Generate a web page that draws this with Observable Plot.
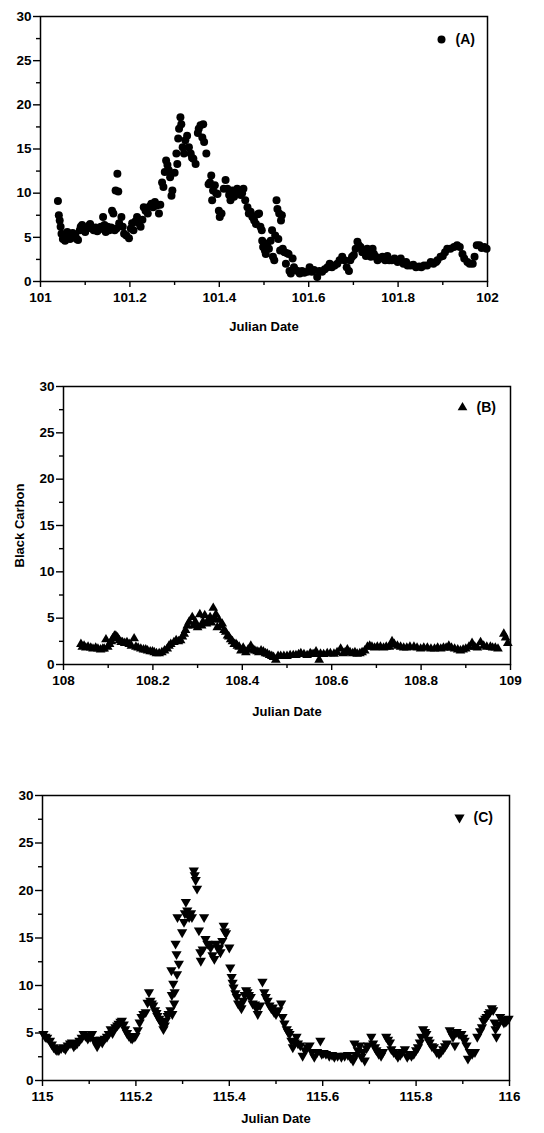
<!DOCTYPE html>
<html>
<head>
<meta charset="utf-8">
<script src="https://cdn.jsdelivr.net/npm/d3@7"></script>
<script src="https://cdn.jsdelivr.net/npm/@observablehq/plot@0.6"></script>
<style>
  html, body { margin: 0; padding: 0; background: #fff; }
  #page { position: relative; width: 544px; height: 1133px; overflow: hidden; }
  .panel { position: absolute; left: 0; }
  #page svg text { font-weight: 700 !important; font-family: 'Liberation Sans', Arial, sans-serif !important; }
</style>
</head>
<body>
<div id="page">
  <div class="panel" id="pA" style="top:0px"></div>
  <div class="panel" id="pB" style="top:345px"></div>
  <div class="panel" id="pC" style="top:735px"></div>
</div>
<script>
// ---------- Data ----------
const julianA = [101.039,101.041,101.043,101.045,101.047,101.050,101.052,101.055,101.058,101.060,101.063,101.066,101.069,101.072,101.075,101.078,101.081,101.084,101.088,101.090,101.093,101.097,101.100,101.104,101.108,101.111,101.115,101.119,101.123,101.127,101.131,101.135,101.140,101.143,101.146,101.150,101.154,101.158,101.160,101.163,101.166,101.168,101.172,101.174,101.170,101.176,101.181,101.184,101.187,101.192,101.198,101.202,101.205,101.208,101.212,101.216,101.220,101.224,101.228,101.231,101.235,101.240,101.244,101.248,101.252,101.256,101.260,101.265,101.268,101.272,101.275,101.278,101.281,101.284,101.287,101.290,101.293,101.295,101.300,101.304,101.306,101.308,101.310,101.313,101.315,101.318,101.321,101.324,101.328,101.332,101.336,101.339,101.342,101.347,101.352,101.354,101.358,101.364,101.362,101.366,101.371,101.376,101.379,101.382,101.384,101.386,101.390,101.393,101.396,101.399,101.401,101.405,101.410,101.414,101.418,101.422,101.425,101.429,101.433,101.437,101.440,101.444,101.448,101.451,101.454,101.458,101.463,101.466,101.470,101.474,101.478,101.482,101.486,101.489,101.492,101.495,101.496,101.498,101.502,101.504,101.507,101.511,101.515,101.518,101.520,101.523,101.525,101.528,101.530,101.532,101.534,101.536,101.538,101.540,101.542,101.546,101.549,101.552,101.555,101.557,101.560,101.564,101.567,101.570,101.575,101.580,101.585,101.590,101.597,101.602,101.607,101.612,101.619,101.624,101.630,101.636,101.642,101.647,101.652,101.658,101.664,101.669,101.675,101.680,101.685,101.690,101.693,101.697,101.701,101.705,101.709,101.712,101.716,101.720,101.724,101.728,101.731,101.735,101.739,101.743,101.746,101.750,101.754,101.759,101.765,101.771,101.776,101.780,101.786,101.792,101.799,101.806,101.812,101.818,101.821,101.828,101.834,101.840,101.847,101.852,101.858,101.865,101.873,101.879,101.885,101.888,101.895,101.900,101.905,101.910,101.917,101.925,101.932,101.938,101.944,101.948,101.955,101.960,101.967,101.971,101.976,101.982,101.987,101.993,101.998];
const bcA = [9.1,7.5,6.9,6.2,5.4,4.8,5.2,4.6,5.0,5.6,5.1,4.8,5.3,5.5,5.0,5.2,4.8,4.7,5.8,6.2,6.4,5.9,5.6,6.0,6.3,6.5,6.0,5.8,6.1,5.7,5.9,6.2,7.3,6.4,5.6,6.2,5.8,6.1,8.0,7.7,5.8,10.3,12.2,10.2,6.0,6.6,7.3,6.2,5.4,5.2,4.9,6.0,6.6,5.8,6.8,7.3,6.6,6.2,7.0,8.4,8.0,7.7,8.5,8.8,8.4,9.0,8.6,7.7,8.7,11.2,10.7,12.4,13.7,13.2,12.6,11.8,9.7,10.3,12.3,14.5,13.3,16.2,17.3,18.6,17.8,15.2,14.5,16.0,16.5,15.2,14.5,14.0,13.9,13.3,16.8,17.3,17.7,17.8,16.3,15.8,14.5,11.0,11.2,12.0,9.2,10.3,10.9,10.0,9.9,8.0,7.3,7.7,10.5,11.5,10.5,9.8,9.2,10.3,9.6,10.2,10.5,10.3,9.8,10.0,10.5,9.2,8.4,7.7,7.9,7.3,6.9,6.5,7.6,7.7,6.2,5.8,4.6,3.9,3.5,3.1,4.3,3.7,4.6,5.8,2.8,2.4,5.2,9.2,8.2,4.8,7.7,3.5,6.9,7.5,3.7,3.3,2.0,3.2,3.1,1.2,0.9,2.6,1.6,1.3,1.2,0.9,1.2,1.0,1.1,1.6,1.1,1.3,0.5,1.2,1.1,1.4,1.6,2.0,1.6,1.8,2.0,2.4,2.8,2.4,1.6,1.2,2.4,2.8,3.0,3.7,4.5,4.1,3.9,3.3,3.5,2.9,3.7,3.2,2.8,3.7,3.1,2.8,2.4,2.6,2.8,2.4,2.9,2.4,2.4,2.6,2.2,2.6,2.0,2.2,1.8,1.8,1.9,1.6,1.7,1.6,1.8,1.8,2.2,2.0,2.2,2.4,2.8,2.9,3.3,3.7,3.7,3.9,4.1,3.9,3.1,2.6,2.2,2.0,2.0,2.8,4.1,4.1,3.8,3.9,3.7];

const julianB = [108.039,108.042,108.046,108.050,108.055,108.061,108.066,108.072,108.077,108.083,108.088,108.091,108.095,108.099,108.103,108.107,108.110,108.114,108.117,108.121,108.125,108.129,108.132,108.137,108.142,108.147,108.152,108.158,108.162,108.167,108.173,108.179,108.184,108.188,108.194,108.199,108.203,108.208,108.214,108.220,108.226,108.232,108.236,108.240,108.247,108.252,108.257,108.262,108.266,108.270,108.273,108.277,108.281,108.288,108.291,108.295,108.300,108.305,108.309,108.312,108.316,108.320,108.324,108.328,108.331,108.335,108.339,108.341,108.344,108.348,108.352,108.355,108.359,108.363,108.367,108.370,108.374,108.378,108.382,108.386,108.389,108.393,108.397,108.402,108.408,108.413,108.419,108.424,108.428,108.433,108.437,108.442,108.447,108.452,108.456,108.461,108.466,108.470,108.475,108.480,108.486,108.493,108.500,108.507,108.514,108.520,108.526,108.531,108.538,108.545,108.552,108.556,108.560,108.565,108.572,108.575,108.582,108.590,108.597,108.605,108.612,108.620,108.626,108.630,108.635,108.641,108.647,108.652,108.657,108.663,108.668,108.674,108.680,108.685,108.690,108.696,108.702,108.709,108.716,108.722,108.729,108.735,108.740,108.747,108.754,108.761,108.768,108.775,108.784,108.791,108.799,108.806,108.814,108.822,108.830,108.837,108.844,108.850,108.856,108.862,108.868,108.875,108.882,108.888,108.894,108.900,108.907,108.914,108.920,108.926,108.933,108.940,108.947,108.955,108.960,108.966,108.972,108.985,108.989,108.994];
const bcB = [2.2,1.9,2.0,1.8,1.9,1.8,1.7,1.8,1.7,1.6,1.7,1.7,2.7,1.9,2.2,2.5,2.8,3.1,3.1,2.9,2.6,2.4,2.4,2.3,2.4,2.2,2.0,2.8,1.9,1.8,1.7,1.6,1.6,1.5,1.4,1.4,1.3,1.2,1.2,1.3,1.5,1.7,2.0,2.2,2.4,2.6,2.5,2.6,3.0,3.3,3.7,4.2,4.6,5.1,4.2,4.6,4.0,5.4,4.2,4.6,5.3,4.4,4.8,5.1,4.5,6.1,4.9,5.4,4.0,4.8,4.2,4.4,3.7,3.5,3.1,3.0,2.7,2.5,2.2,2.2,2.0,1.9,1.5,1.8,1.3,1.6,2.0,1.6,1.5,1.4,1.3,1.5,1.4,1.2,1.15,1.0,0.9,0.8,0.5,0.9,0.9,0.9,0.9,1.0,1.0,1.0,1.1,1.2,1.1,1.0,1.2,1.1,1.1,1.4,0.5,1.15,1.1,1.2,1.2,1.15,1.3,1.7,1.2,1.3,1.6,1.3,1.2,1.3,1.15,1.2,1.3,1.5,1.9,2.0,1.9,1.8,1.9,1.9,1.8,1.9,1.9,2.5,2.2,2.0,1.9,1.8,1.8,1.9,1.9,1.8,1.7,1.8,1.8,1.7,1.7,1.8,1.7,1.8,1.8,2.0,1.8,1.7,1.6,1.5,1.6,1.7,1.9,2.3,1.9,1.8,2.4,2.0,1.9,1.9,1.8,1.8,1.7,3.3,2.9,2.3];

const julianC = [115.002,115.006,115.010,115.016,115.020,115.024,115.028,115.031,115.035,115.040,115.045,115.049,115.054,115.059,115.063,115.067,115.071,115.074,115.079,115.084,115.088,115.092,115.097,115.102,115.106,115.110,115.114,115.117,115.121,115.125,115.128,115.133,115.138,115.142,115.146,115.150,115.156,115.160,115.163,115.167,115.170,115.174,115.177,115.181,115.185,115.189,115.192,115.196,115.199,115.204,115.208,115.212,115.216,115.221,115.225,115.228,115.231,115.234,115.237,115.241,115.244,115.246,115.250,115.253,115.256,115.259,115.262,115.264,115.268,115.270,115.274,115.276,115.277,115.278,115.280,115.282,115.283,115.285,115.287,115.288,115.289,115.292,115.299,115.303,115.305,115.307,115.310,115.314,115.318,115.320,115.324,115.326,115.328,115.331,115.335,115.338,115.339,115.343,115.346,115.349,115.353,115.357,115.360,115.364,115.368,115.372,115.375,115.378,115.381,115.385,115.388,115.390,115.393,115.400,115.402,115.405,115.407,115.409,115.413,115.416,115.419,115.423,115.426,115.430,115.433,115.436,115.439,115.442,115.446,115.450,115.455,115.458,115.461,115.466,115.471,115.475,115.478,115.482,115.486,115.490,115.493,115.496,115.500,115.505,115.511,115.514,115.518,115.523,115.526,115.529,115.533,115.536,115.540,115.544,115.547,115.552,115.557,115.562,115.567,115.572,115.577,115.582,115.588,115.595,115.598,115.602,115.607,115.614,115.620,115.625,115.632,115.640,115.647,115.654,115.660,115.665,115.668,115.671,115.675,115.679,115.683,115.686,115.690,115.694,115.697,115.704,115.708,115.712,115.715,115.720,115.725,115.729,115.736,115.740,115.744,115.747,115.752,115.757,115.761,115.766,115.770,115.776,115.781,115.786,115.790,115.795,115.800,115.804,115.808,115.811,115.815,115.819,115.822,115.826,115.829,115.834,115.838,115.844,115.849,115.853,115.858,115.862,115.866,115.872,115.876,115.879,115.883,115.887,115.892,115.897,115.901,115.904,115.908,115.911,115.915,115.920,115.926,115.931,115.937,115.941,115.944,115.948,115.951,115.955,115.958,115.962,115.965,115.968,115.970,115.972,115.976,115.980,115.984,115.988,115.992,115.994,115.998];
const bcC = [4.9,4.6,4.5,4.2,3.8,3.5,3.3,3.2,3.2,3.4,3.5,3.3,3.7,3.9,4.0,3.6,3.8,3.9,4.2,4.5,4.9,4.7,4.4,4.6,4.9,4.3,4.0,3.6,4.1,4.3,4.0,4.4,4.6,4.9,5.4,5.0,5.6,5.8,5.97,6.2,6.3,5.9,5.4,5.0,4.7,4.5,4.4,4.6,4.7,5.3,6.1,6.7,7.0,7.2,8.2,9.3,8.4,8.1,7.9,7.4,7.1,6.8,6.5,6.2,6.0,5.4,5.8,6.3,6.8,7.0,7.4,11.6,9.0,7.0,10.2,8.1,9.3,14.4,13.3,11.2,17.2,12.3,15.6,16.7,17.6,18.8,17.9,17.2,17.6,17.2,22.1,21.6,21.1,20.2,15.8,13.5,12.6,13.8,17.2,14.9,14.4,14.3,14.0,13.2,12.8,14.4,14.0,13.9,13.5,14.7,16.3,15.7,15.5,14.0,11.9,10.9,10.3,9.8,9.2,8.8,8.1,7.9,7.6,8.4,9.0,9.5,9.3,9.0,8.8,8.1,8.0,7.6,7.0,7.9,10.4,9.3,8.8,8.4,7.9,7.6,7.7,7.2,7.0,7.4,8.1,6.7,6.0,5.4,5.1,4.9,4.2,3.5,4.0,4.6,3.9,3.7,2.6,3.2,3.5,3.7,3.0,2.5,3.0,4.2,2.8,2.9,2.8,2.6,2.7,2.5,2.6,2.5,2.6,2.7,2.4,2.1,3.9,2.7,3.2,3.7,2.5,3.0,2.1,3.4,3.7,4.6,3.9,3.5,3.2,2.8,2.6,3.0,4.6,4.3,4.0,3.3,3.0,2.8,2.5,2.7,3.0,3.3,2.5,2.8,2.6,2.8,3.2,3.5,4.0,4.6,5.4,5.1,4.9,4.3,4.0,3.6,3.5,3.0,2.8,3.0,3.3,3.6,3.9,5.3,4.9,4.6,3.7,5.1,4.9,4.9,4.5,4.2,3.7,2.3,3.0,2.8,3.0,4.6,5.2,5.6,6.3,6.5,6.7,7.0,7.2,7.6,7.4,6.1,5.4,4.6,5.9,6.7,6.4,6.1,6.2,6.3,6.5];

const xTicksA = [101, 101.2, 101.4, 101.6, 101.8, 102];
const xMinorA = [101.1, 101.3, 101.5, 101.7, 101.9];
const xTicksB = [108, 108.2, 108.4, 108.6, 108.8, 109];
const xMinorB = [108.1, 108.3, 108.5, 108.7, 108.9];
const xTicksC = [115, 115.2, 115.4, 115.6, 115.8, 116];
const xMinorC = [115.1, 115.3, 115.5, 115.7, 115.9];
const yTicks = [0, 5, 10, 15, 20, 25, 30];
const yMinor = [2.5, 7.5, 12.5, 17.5, 22.5, 27.5];
const legendLabels = ["(A)", "(B)", "(C)"];
const xTitle = "Julian Date";
const yTitle = "Black Carbon";

// ---------- Drawing ----------
const FONT = "'Liberation Sans', Arial, Helvetica, sans-serif";

function panel(o) {
  const data = o.julian.map((j, i) => ({j, v: o.bc[i]}));
  const sym = {symbol: o.symbol, r: o.r, fill: "black", stroke: "none", rotate: o.rotate};
  const marks = [
    Plot.axisX(o.xMinor, {tickSize: 4, text: null, label: null, strokeWidth: 1.4}),
    Plot.axisX(o.xTicks, {tickSize: 6, tickPadding: 5, strokeWidth: 1.4, fontSize: 13.5, fontWeight: "bold",
      tickFormat: d => String(d), label: null}),
    Plot.axisY(yMinor, {tickSize: 4, text: null, label: null, strokeWidth: 1.4}),
    Plot.axisY(yTicks, {tickSize: 7, tickPadding: 2, strokeWidth: 1.4, fontSize: 13.5, fontWeight: "bold",
      tickFormat: d => String(d), label: null}),
    Plot.frame({stroke: "black", strokeWidth: 1.5}),
    Plot.dot(data, {x: "j", y: "v", ...sym}),
    Plot.dot([o.legend], {frameAnchor: "top-right", dx: o.ldx, dy: o.ldy, ...sym}),
    Plot.text([o.legend], {text: d => d, frameAnchor: "top-right", dx: o.tdx, dy: o.ldy,
      textAnchor: "start", lineAnchor: "middle", fontSize: 14, fontWeight: "bold", fill: "black"}),
    Plot.text([xTitle], {text: d => d, frameAnchor: "bottom", dy: o.xLabelDy,
      lineAnchor: "middle", fontSize: 13, fontWeight: "bold", fill: "black"})
  ];
  if (o.yLabel) {
    marks.push(Plot.text([o.yLabel], {text: d => d, frameAnchor: "left", dx: -44, rotate: -90,
      lineAnchor: "middle", textAnchor: "middle", fontSize: 13, fontWeight: "bold", fill: "black"}));
  }
  return Plot.plot({
    width: 544,
    height: o.height,
    marginTop: o.mt, marginBottom: o.mb, marginLeft: o.ml, marginRight: o.mr,
    style: {fontFamily: FONT, fontWeight: "bold", fontSize: "13px", color: "#000", background: "#fff", overflow: "visible"},
    x: {domain: [o.xTicks[0], o.xTicks[o.xTicks.length - 1]], label: null},
    y: {domain: [0, 30], label: null},
    marks
  });
}

document.getElementById("pA").appendChild(panel({
  julian: julianA, bc: bcA, xTicks: xTicksA, xMinor: xMinorA,
  symbol: "circle", r: 4, rotate: 0, legend: legendLabels[0], yLabel: null,
  height: 345, mt: 16, mb: 64, ml: 40, mr: 57, xLabelDy: 45,
  ldx: -46, ldy: 23, tdx: -32
}));
document.getElementById("pB").appendChild(panel({
  julian: julianB, bc: bcB, xTicks: xTicksB, xMinor: xMinorB,
  symbol: "triangle", r: 3.6, rotate: 0, legend: legendLabels[1], yLabel: yTitle,
  height: 390, mt: 41, mb: 71, ml: 63, mr: 34, xLabelDy: 47,
  ldx: -48, ldy: 21, tdx: -34
}));
document.getElementById("pC").appendChild(panel({
  julian: julianC, bc: bcC, xTicks: xTicksC, xMinor: xMinorC,
  symbol: "triangle", r: 3.8, rotate: 180, legend: legendLabels[2], yLabel: null,
  height: 398, mt: 60, mb: 53, ml: 42, mr: 35, xLabelDy: 38,
  ldx: -50, ldy: 22, tdx: -36
}));
</script>
</body>
</html>
